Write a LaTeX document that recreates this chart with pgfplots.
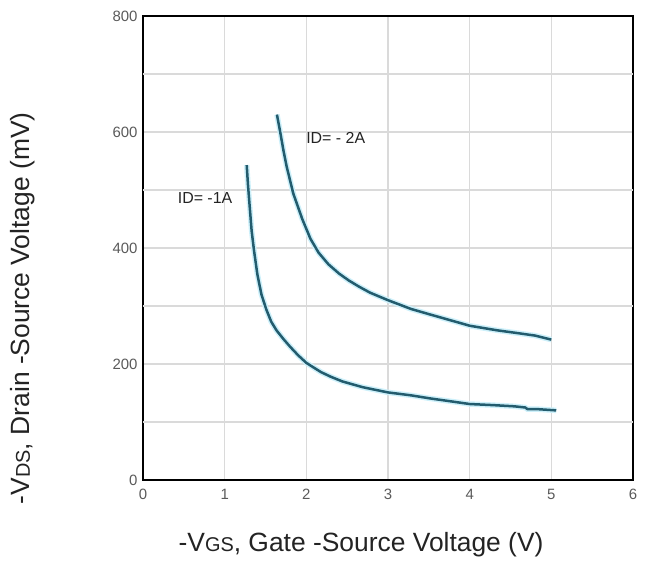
\documentclass[border=0pt]{standalone}
\usepackage{fontspec}
\setmainfont{Liberation Sans}
\usepackage{pgfplots}
\pgfplotsset{compat=1.18}
\definecolor{curve}{RGB}{35,92,110}
\definecolor{glow}{RGB}{205,240,250}
\definecolor{gridc}{RGB}{218,218,218}
\definecolor{tickc}{RGB}{90,90,90}
\definecolor{labc}{RGB}{35,35,35}
\begin{document}
\begin{tikzpicture}
\useasboundingbox (-143bp,-84bp) rectangle (502bp,480bp);
\begin{axis}[
  anchor=south west, at={(0,0)},
  scale only axis,
  width=490bp, height=464bp,
  xmin=0, xmax=6, ymin=0, ymax=800,
  xtick={0,1,2,3,4,5,6},
  ytick={0,200,400,600,800},
  extra y ticks={100,300,500,700},
  extra y tick labels={},
  extra y tick style={grid=major, major tick length=0pt},
  grid=major,
  x grid style={gridc, line width=1.2bp},
  y grid style={gridc, line width=2bp},
  major tick length=0pt,
  axis line style={black, line width=2.6bp},
  /pgf/number format/assume math mode=true,
  tick label style={font=\fontsize{15}{17}\selectfont, text=tickc},
  xticklabel style={yshift=-6bp},
  yticklabel style={xshift=-2bp},
  xlabel={-V{\fontsize{20}{23}\selectfont GS}, Gate -Source Voltage (V)},
  ylabel={-V{\fontsize{20}{23}\selectfont DS}, Drain -Source Voltage (mV)},
  label style={font=\fontsize{26.5}{30}\selectfont, text=labc},
  xlabel style={at={(axis description cs:0.445,-0.155)}, anchor=base},
  ylabel style={at={(axis description cs:-0.245,0.37)}, anchor=center, rotate=0},
  clip=false,
]
\addplot[glow, line width=5.5bp] coordinates {
(1.27,543)(1.285,510)(1.30,483)(1.33,430)(1.36,395)(1.40,355)(1.45,320)(1.51,294)(1.57,273)(1.635,258)(1.72,243)(1.80,230)(1.9,215)(2.0,202)(2.1,193)(2.18,186)(2.3,178)(2.44,170)(2.69,160)(3.0,151)(3.28,146)(3.5,141)(3.70,137)(4.0,131)(4.3,129)(4.55,127)(4.68,125)(4.71,122)(4.85,122)(5.06,120)
};
\addplot[glow, line width=5.5bp] coordinates {
(1.64,630)(1.68,600)(1.72,568)(1.76,540)(1.84,494)(1.95,450)(2.05,416)(2.15,392)(2.27,372)(2.4,356)(2.52,344)(2.65,333)(2.78,323)(3.0,310)(3.28,295)(3.5,286)(3.7,278)(4.0,266)(4.34,258)(4.6,253)(4.8,249)(5.0,242)
};
\addplot[curve, line width=2.5bp] coordinates {
(1.27,543)(1.285,510)(1.30,483)(1.33,430)(1.36,395)(1.40,355)(1.45,320)(1.51,294)(1.57,273)(1.635,258)(1.72,243)(1.80,230)(1.9,215)(2.0,202)(2.1,193)(2.18,186)(2.3,178)(2.44,170)(2.69,160)(3.0,151)(3.28,146)(3.5,141)(3.70,137)(4.0,131)(4.3,129)(4.55,127)(4.68,125)(4.71,122)(4.85,122)(5.06,120)
};
\addplot[curve, line width=2.5bp] coordinates {
(1.64,630)(1.68,600)(1.72,568)(1.76,540)(1.84,494)(1.95,450)(2.05,416)(2.15,392)(2.27,372)(2.4,356)(2.52,344)(2.65,333)(2.78,323)(3.0,310)(3.28,295)(3.5,286)(3.7,278)(4.0,266)(4.34,258)(4.6,253)(4.8,249)(5.0,242)
};
\node[font=\fontsize{16}{18}\selectfont, text=labc] at (axis cs:0.76,487) {ID= -1A};
\node[font=\fontsize{16}{18}\selectfont, text=labc] at (axis cs:2.36,589) {ID= - 2A};
\end{axis}
\end{tikzpicture}
\end{document}
